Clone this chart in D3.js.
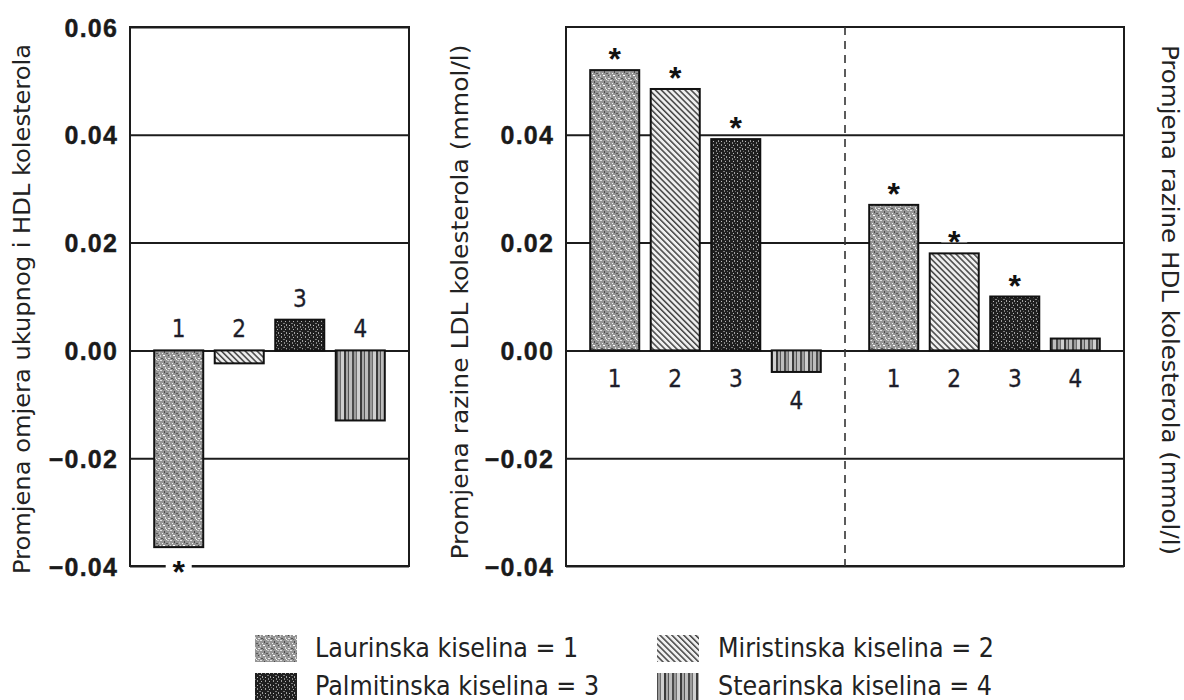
<!DOCTYPE html>
<html><head><meta charset="utf-8">
<script src="https://cdn.jsdelivr.net/npm/d3@7"></script>
<style>body{margin:0;background:#fff;} svg{display:block;}</style>
</head><body>
<svg id="c" width="1184" height="700"></svg>
<script>
// ---------- data ----------
const categories = ["1", "2", "3", "4"];
const acidNames = ["Laurinska kiselina", "Miristinska kiselina", "Palmitinska kiselina", "Stearinska kiselina"];
const ratioValues = [-0.0365, -0.0024, 0.0057, -0.013];
const ratioSignificant = [true, false, false, false];
const ldlValues = [0.052, 0.0485, 0.0392, -0.004];
const ldlSignificant = [true, true, true, false];
const hdlValues = [0.027, 0.018, 0.010, 0.0022];
const hdlSignificant = [true, true, true, false];
const yDomain = [-0.04, 0.06];
const leftTicks = [0.06, 0.04, 0.02, 0.00, -0.02, -0.04];
const rightTicks = [0.04, 0.02, 0.00, -0.02, -0.04];
const titleLeft = "Promjena omjera ukupnog i HDL kolesterola";
const titleMiddle = "Promjena razine LDL kolesterola (mmol/l)";
const titleRight = "Promjena razine HDL kolesterola (mmol/l)";

// ---------- layout ----------
const svg = d3.select("#c");
const TOP = 27, BOTTOM = 566;
const INK = "#1c1c1c";
const textFont = "'DejaVu Sans Condensed', 'Noto Sans', 'DejaVu Sans', sans-serif";
const y = d3.scaleLinear().domain(yDomain).range([BOTTOM, TOP]);
const fmt = d3.format(".2f");

// ---------- patterns ----------
const defs = svg.append("defs");
const patIds = ["pLaur", "pMir", "pPalm", "pStear"];
{
  const p = defs.append("pattern").attr("id", "pLaur").attr("patternUnits", "userSpaceOnUse")
    .attr("width", 10).attr("height", 10);
  p.append("rect").attr("width", 10).attr("height", 10).attr("fill", "#959595");
  const specks = [[0,0,2,1,"#e2e2e2"],[4,1,1,2,"#4c4c4c"],[7,0,2,1,"#c8c8c8"],[2,3,1,1,"#f0f0f0"],
    [6,3,2,1,"#5a5a5a"],[0,5,1,2,"#cfcfcf"],[3,5,2,1,"#ffffff"],[8,5,1,1,"#444"],[1,8,2,1,"#555"],
    [5,7,1,2,"#dcdcdc"],[8,8,2,1,"#e8e8e8"],[3,9,1,1,"#666"],[9,2,1,2,"#bbbbbb"],[6,9,1,1,"#f5f5f5"]];
  specks.forEach(s => p.append("rect").attr("x", s[0]).attr("y", s[1]).attr("width", s[2]).attr("height", s[3]).attr("fill", s[4]));
}
{
  const p = defs.append("pattern").attr("id", "pMir").attr("patternUnits", "userSpaceOnUse")
    .attr("width", 4.2).attr("height", 4.2).attr("patternTransform", "rotate(-45)");
  p.append("rect").attr("width", 4.2).attr("height", 4.2).attr("fill", "#efefef");
  p.append("rect").attr("width", 1.5).attr("height", 4.2).attr("fill", "#444");
}
{
  const p = defs.append("pattern").attr("id", "pPalm").attr("patternUnits", "userSpaceOnUse")
    .attr("width", 8).attr("height", 8);
  p.append("rect").attr("width", 8).attr("height", 8).attr("fill", "#1f1f1f");
  const specks = [[1,0,1,2,"#9a9a9a"],[5,1,1,1,"#b5b5b5"],[3,3,2,1,"#7d7d7d"],[6,4,1,2,"#a0a0a0"],
    [1,5,1,1,"#c0c0c0"],[4,6,1,2,"#888"],[7,7,1,1,"#6a6a6a"]];
  specks.forEach(s => p.append("rect").attr("x", s[0]).attr("y", s[1]).attr("width", s[2]).attr("height", s[3]).attr("fill", s[4]));
}
{
  const p = defs.append("pattern").attr("id", "pStear").attr("patternUnits", "userSpaceOnUse")
    .attr("width", 16).attr("height", 10);
  const stripes = [[0,2,"#4a4a4a"],[2,2,"#9c9c9c"],[4,1,"#6e6e6e"],[5,3,"#cfcfcf"],[8,2,"#3a3a3a"],
    [10,2,"#a8a8a8"],[12,1,"#555"],[13,3,"#bdbdbd"]];
  stripes.forEach(s => p.append("rect").attr("x", s[0]).attr("width", s[1]).attr("height", 10).attr("fill", s[2]));
}

// ---------- panel drawing ----------
function gridAxis(x0, x1, ticks) {
  const g = svg.append("g").attr("transform", `translate(${x0},0)`)
    .call(d3.axisLeft(y).tickValues(ticks).tickSize(-(x1 - x0)).tickPadding(12).tickFormat(fmt));
  g.select(".domain").remove();
  g.selectAll(".tick line").attr("stroke", INK).attr("stroke-width", 2);
  g.selectAll(".tick text")
    .attr("font-family", "'Liberation Sans', Arial, sans-serif")
    .attr("font-weight", "bold").attr("font-size", 25).attr("letter-spacing", 1.2)
    .attr("fill", "#1a1a1a").attr("stroke", "#1a1a1a").attr("stroke-width", 0.4)
    .attr("dy", "0.36em");
  return g;
}

function bars(x0, x1, values, labelMode) {
  const xb = d3.scaleBand().domain(categories).range([x0, x1]).paddingInner(0.19).paddingOuter(0.4);
  const g = svg.append("g");
  g.selectAll("rect").data(values).join("rect")
    .attr("x", (d, i) => xb(categories[i]))
    .attr("width", xb.bandwidth())
    .attr("y", d => Math.min(y(d), y(0)))
    .attr("height", d => Math.abs(y(d) - y(0)))
    .attr("fill", (d, i) => `url(#${patIds[i]})`)
    .attr("stroke", "#111").attr("stroke-width", 2);
  g.selectAll("text.num").data(values).join("text").attr("class", "num")
    .attr("x", (d, i) => xb(categories[i]) + xb.bandwidth() / 2)
    .attr("y", d => labelMode === "above" ? Math.min(y(d), y(0)) - 13 : Math.max(y(d), y(0)) + 37)
    .attr("text-anchor", "middle")
    .attr("font-family", textFont).attr("font-size", 24).attr("fill", "#1d1d2a")
    .attr("stroke", "#1d1d2a").attr("stroke-width", 0.3)
    .text((d, i) => categories[i]);
  return xb;
}

function stars(xb, values, sig) {
  const g = svg.append("g");
  values.forEach((v, i) => {
    if (!sig[i]) return;
    const cx = xb(categories[i]) + xb.bandwidth() / 2;
    const cy = v >= 0 ? y(v) - 18 : y(v) + 18;
    g.append("rect").attr("x", cx - 13).attr("y", cy - 7).attr("width", 26).attr("height", 14).attr("fill", "#fff");
    g.append("text").attr("x", cx).attr("y", cy + 18)
      .attr("text-anchor", "middle")
      .attr("font-family", "'Liberation Sans', Arial, sans-serif").attr("font-weight", "bold")
      .attr("font-size", 32).attr("fill", "#111").text("*");
  });
}

function frame(x0, x1) {
  svg.append("rect").attr("x", x0).attr("y", TOP).attr("width", x1 - x0).attr("height", BOTTOM - TOP)
    .attr("fill", "none").attr("stroke", INK).attr("stroke-width", 2);
}

// Left panel
const L0 = 130, L1 = 409;
gridAxis(L0, L1, leftTicks);
const xbLeft = bars(L0, L1, ratioValues, "above");
frame(L0, L1);
stars(xbLeft, ratioValues, ratioSignificant);

// Right panel
const R0 = 566, RM = 845, R1 = 1124;
gridAxis(R0, R1, rightTicks);
const xbLdl = bars(R0, RM, ldlValues, "below");
const xbHdl = bars(RM, R1, hdlValues, "below");
frame(R0, R1);
svg.append("line").attr("x1", RM).attr("x2", RM).attr("y1", TOP).attr("y2", BOTTOM)
  .attr("stroke", "#333").attr("stroke-width", 1.6).attr("stroke-dasharray", "8,6");
stars(xbLdl, ldlValues, ldlSignificant);
stars(xbHdl, hdlValues, hdlSignificant);

// Axis titles
function vTitle(x, cy, rot, text, len) {
  svg.append("text").attr("transform", `translate(${x},${cy}) rotate(${rot})`)
    .attr("text-anchor", "middle").attr("font-family", textFont).attr("font-size", 23)
    .attr("fill", "#222").attr("textLength", len).attr("lengthAdjust", "spacingAndGlyphs")
    .text(text);
}
vTitle(30, 309, -90, titleLeft, 530);
vTitle(468, 302, -90, titleMiddle, 515);
vTitle(1162, 300, 90, titleRight, 510);

// Legend
const legendPos = [[255, 635], [657, 635], [255, 673], [657, 673]];
const lg = svg.append("g");
acidNames.forEach((name, i) => {
  const [lx, ly] = legendPos[i];
  lg.append("rect").attr("x", lx).attr("y", ly).attr("width", 42).attr("height", 27)
    .attr("fill", `url(#${patIds[i]})`);
  lg.append("text").attr("x", lx + (i % 2 === 0 ? 60 : 61)).attr("y", ly + 22)
    .attr("font-family", textFont).attr("font-size", 26.5).attr("fill", "#222")
    .text(`${name} = ${categories[i]}`);
});
</script>
</body></html>
